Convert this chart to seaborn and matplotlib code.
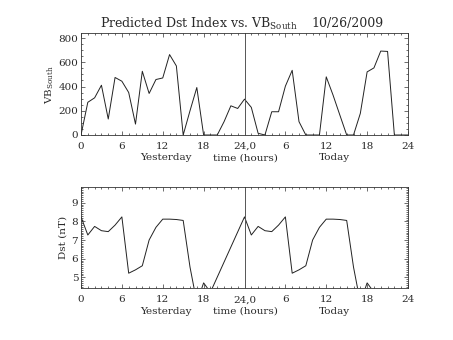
import numpy as np
import pandas as pd
import matplotlib
matplotlib.use("Agg")
import matplotlib.pyplot as plt
from matplotlib.ticker import MultipleLocator, FixedLocator
import seaborn as sns

# ---- data ----
vb_hours = list(range(0, 49))
vb_south = [0, 270, 307, 411, 132, 475, 444, 351, 90, 526,
            343, 458, 471, 664, 570, 0, 200, 392, 0, 0,
            0, 110, 241, 219, 296, 228, 14, 0, 192, 192,
            403, 534, 110, 0, 0, 0, 480, 329, 164, 0,
            0, 178, 521, 554, 693, 690, 0, 0, 0]

dst_hours = list(range(0, 20)) + list(range(24, 44))
dst = [8.24, 7.27, 7.73, 7.5, 7.45, 7.8, 8.24, 5.22, 5.4, 5.62,
       7.0, 7.68, 8.12, 8.12, 8.1, 8.05, 5.55, 3.65, 4.7, 4.2,
       8.24, 7.27, 7.73, 7.5, 7.45, 7.8, 8.24, 5.22, 5.4, 5.62,
       7.0, 7.68, 8.12, 8.12, 8.1, 8.05, 5.55, 3.65, 4.7, 4.2]

xtick_pos = [0, 6, 12, 18, 24, 30, 36, 42, 48]
xtick_labels = ["0", "6", "12", "18", "24,0", "6", "12", "18", "24"]
day_labels = [(12.4, "Yesterday"), (24.2, "time (hours)"), (37.2, "Today")]
title_main = r"Predicted Dst Index vs. VB$_{\rm South}$"
title_date = "10/26/2009"

sns.set_theme(style="ticks")
plt.rcParams["font.family"] = ["DejaVu Serif"]
plt.rcParams["mathtext.fontset"] = "dejavuserif"
plt.rcParams["axes.linewidth"] = 0.6
plt.rcParams["axes.edgecolor"] = "#333333"

TXT = "#2a2a2a"
W, H = 453, 340
fig = plt.figure(figsize=(W / 100, H / 100), dpi=100)
fig.patch.set_facecolor("white")

def px_axes(l, t, r, b):
    return fig.add_axes([l / W, 1 - b / H, (r - l) / W, (b - t) / H])

ax1 = px_axes(81, 33.5, 408, 135)
ax2 = px_axes(81, 186.7, 408, 288.3)

df1 = pd.DataFrame({"h": vb_hours, "v": vb_south})
df2 = pd.DataFrame({"h": dst_hours, "v": dst})
sns.lineplot(data=df1, x="h", y="v", ax=ax1, color="#222222", lw=0.7, sort=False)
sns.lineplot(data=df2, x="h", y="v", ax=ax2, color="#222222", lw=0.7, sort=False)

ax1.set_ylim(0, 838)
ax2.set_ylim(4.41, 9.86)

for ax in (ax1, ax2):
    ax.set_xlim(0, 48)
    ax.axvline(24, color="#555555", lw=0.7)
    ax.xaxis.set_major_locator(FixedLocator(xtick_pos))
    ax.set_xticklabels(xtick_labels)
    ax.xaxis.set_minor_locator(MultipleLocator(1))
    ax.tick_params(which="both", direction="in", top=True, right=True,
                   colors="#333333", width=0.5)
    ax.tick_params(which="major", length=3.2)
    ax.tick_params(which="minor", length=1.6)
    ax.tick_params(axis="x", pad=5, labelsize=7.5, labelcolor=TXT)
    ax.tick_params(axis="y", pad=2, labelsize=7.5, labelcolor=TXT)
    ax.set_xlabel("")
    for xpos, txt in day_labels:
        ax.text(xpos, -0.225, txt, transform=ax.get_xaxis_transform(),
                ha="center", va="center", fontsize=7.5, color=TXT)

ax1.yaxis.set_major_locator(MultipleLocator(200))
ax1.yaxis.set_minor_locator(MultipleLocator(50))
ax2.yaxis.set_major_locator(MultipleLocator(1))
ax2.yaxis.set_minor_locator(MultipleLocator(0.1))

ax1.set_ylabel(r"VB$_{\rm South}$", fontsize=7.5, color=TXT, labelpad=2)
ax2.set_ylabel("Dst (nT)", fontsize=7.5, color=TXT, labelpad=3)

fig.text(100 / W, 1 - 24 / H, title_main, fontsize=9, ha="left", va="center",
         color=TXT)
fig.text(384 / W, 1 - 24 / H, title_date, fontsize=9, ha="right", va="center",
         color=TXT)

fig.savefig("out.png", dpi=100, facecolor="white")
